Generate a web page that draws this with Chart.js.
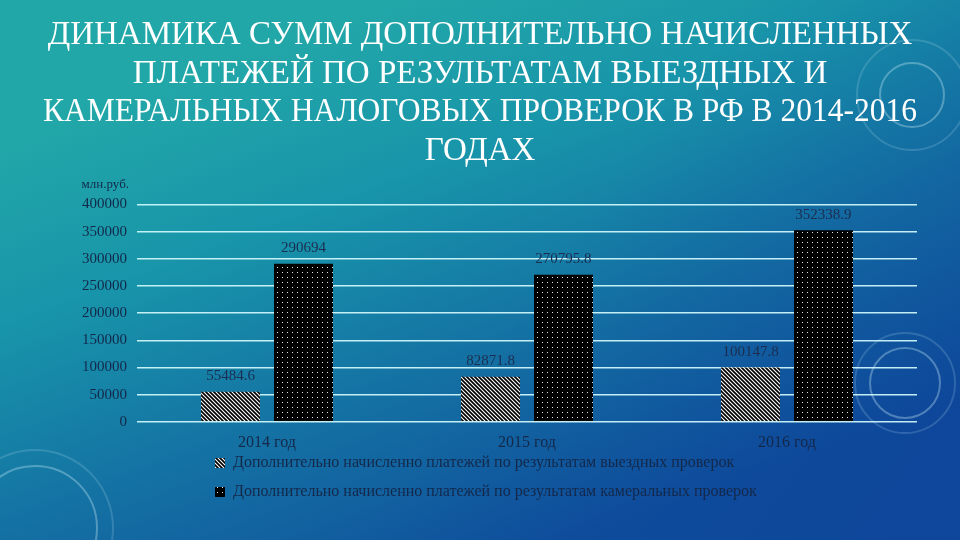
<!DOCTYPE html>
<html><head><meta charset="utf-8">
<script src="https://cdn.jsdelivr.net/npm/chart.js@4/dist/chart.umd.min.js"></script>
<style>html,body{margin:0;padding:0;width:960px;height:540px;overflow:hidden;background:#1177a5}
#c{display:block}</style></head>
<body><canvas id="c" width="960" height="540"></canvas>
<script>
const titleLines = ['ДИНАМИКА СУММ ДОПОЛНИТЕЛЬНО НАЧИСЛЕННЫХ', 'ПЛАТЕЖЕЙ ПО РЕЗУЛЬТАТАМ ВЫЕЗДНЫХ И', 'КАМЕРАЛЬНЫХ НАЛОГОВЫХ ПРОВЕРОК В РФ В 2014-2016', 'ГОДАХ'];
const categories = ['2014 год', '2015 год', '2016 год'];
const fieldAudits = [55484.6, 82871.8, 100147.8];
const deskAudits = [290694, 270795.8, 352338.9];
const seriesNames = ['Дополнительно начисленно платежей по результатам выездных проверок', 'Дополнительно начисленно платежей по результатам камеральных проверок'];
const unitLabel = 'млн.руб.';
const yMax = 400000;
const yStep = 50000;

const canvas = document.getElementById('c');
const mainCtx = canvas.getContext('2d');
const SERIF = '"Liberation Serif", "DejaVu Serif", serif';
const TEXT_DARK = '#14284a';

function stripePattern() {
  const c = document.createElement('canvas'); c.width = 4; c.height = 4;
  const x = c.getContext('2d');
  x.fillStyle = '#000'; x.fillRect(0, 0, 4, 4);
  x.strokeStyle = '#fff'; x.lineWidth = 1.1;
  x.beginPath();
  x.moveTo(0, 0); x.lineTo(4, 4);
  x.moveTo(-2, 2); x.lineTo(2, 6);
  x.moveTo(2, -2); x.lineTo(6, 2);
  x.stroke();
  return mainCtx.createPattern(c, 'repeat');
}
function dotPattern() {
  const c = document.createElement('canvas'); c.width = 5; c.height = 5;
  const x = c.getContext('2d');
  x.fillStyle = '#000'; x.fillRect(0, 0, 5, 5);
  x.fillStyle = '#e8e8e8'; x.fillRect(2, 2, 1, 1);
  return mainCtx.createPattern(c, 'repeat');
}

const bgPlugin = {
  id: 'bg',
  beforeDraw(chart) {
    const ctx = chart.ctx, w = chart.width, h = chart.height;
    ctx.save();
    const g = ctx.createLinearGradient(380, 0, 580, h);
    g.addColorStop(0, '#22a7a8');
    g.addColorStop(0.3, '#1895aa');
    g.addColorStop(0.65, '#1470a3');
    g.addColorStop(1, '#0f4f9c');
    ctx.fillStyle = g;
    ctx.fillRect(0, 0, w, h);
    const g2 = ctx.createLinearGradient(250, 60, 900, 540);
    g2.addColorStop(0, 'rgba(10,50,150,0)');
    g2.addColorStop(0.45, 'rgba(10,50,150,0)');
    g2.addColorStop(1, 'rgba(10,50,150,0.3)');
    ctx.fillStyle = g2;
    ctx.fillRect(0, 0, w, h);
    ctx.lineWidth = 2;
    ctx.strokeStyle = 'rgba(200,235,245,0.35)';
    ctx.beginPath(); ctx.arc(905, 383, 35, 0, Math.PI * 2); ctx.stroke();
    ctx.beginPath(); ctx.arc(912, 95, 32, 0, Math.PI * 2); ctx.stroke();
    ctx.beginPath(); ctx.arc(35, 528, 62, 0, Math.PI * 2); ctx.stroke();
    ctx.strokeStyle = 'rgba(200,235,245,0.18)';
    ctx.beginPath(); ctx.arc(905, 383, 50, 0, Math.PI * 2); ctx.stroke();
    ctx.beginPath(); ctx.arc(912, 95, 55, 0, Math.PI * 2); ctx.stroke();
    ctx.beginPath(); ctx.arc(35, 528, 78, 0, Math.PI * 2); ctx.stroke();
    ctx.restore();
  }
};

// keep x labels unclipped and place legend rows left-aligned like the original
const layoutTweak = {
  id: 'layoutTweak',
  afterLayout(chart) {
    chart.scales.x.bottom += 26;
    const lg = chart.legend;
    lg.left = 215 - lg.options.labels.padding;
  }
};

const valuePlugin = {
  id: 'vals',
  afterDatasetsDraw(chart) {
    const ctx = chart.ctx;
    ctx.save();
    ctx.font = '15px ' + SERIF;
    ctx.fillStyle = '#1b2d50';
    ctx.textAlign = 'center';
    ctx.textBaseline = 'bottom';
    chart.data.datasets.forEach((ds, i) => {
      chart.getDatasetMeta(i).data.forEach((bar, j) => {
        ctx.fillText(String(ds.data[j]), bar.x, bar.y - 8);
      });
    });
    const ys = chart.scales.y;
    ctx.font = '13px ' + SERIF;
    ctx.fillStyle = TEXT_DARK;
    ctx.textAlign = 'right';
    ctx.textBaseline = 'middle';
    ctx.fillText(unitLabel, ys.right - 8, chart.chartArea.top - 20);
    ctx.restore();
  }
};

new Chart(canvas, {
  type: 'bar',
  data: {
    labels: categories,
    datasets: [
      { label: seriesNames[0], data: fieldAudits, backgroundColor: stripePattern(), categoryPercentage: 0.5615, barPercentage: 0.808 },
      { label: seriesNames[1], data: deskAudits, backgroundColor: dotPattern(), categoryPercentage: 0.5615, barPercentage: 0.808 }
    ]
  },
  options: {
    responsive: false,
    animation: false,
    layout: { padding: { left: 43, right: 43, top: 0, bottom: 30 } },
    plugins: {
      title: {
        display: true, text: titleLines, color: '#ffffff',
        font: { family: SERIF, size: 33, weight: 'normal', lineHeight: 1.17 },
        padding: { top: 16, bottom: 34 }
      },
      legend: {
        position: 'bottom', align: 'start',
        labels: { color: TEXT_DARK, font: { family: SERIF, size: 16 }, boxWidth: 10, boxHeight: 10, padding: 13 }
      },
      tooltip: { enabled: false }
    },
    scales: {
      x: {
        grid: { display: false }, border: { display: false },
        ticks: { color: TEXT_DARK, font: { family: SERIF, size: 16 }, padding: 3 },
        afterFit(scale) { scale.height -= 13; }
      },
      y: {
        min: 0, max: yMax,
        ticks: { stepSize: yStep, color: TEXT_DARK, font: { family: SERIF, size: 15 }, padding: 10, callback: (v) => String(v) },
        grid: { color: 'rgba(205,245,250,0.95)', lineWidth: 1.5, drawTicks: false },
        border: { display: false },
        afterFit(scale) { scale.width = 94; }
      }
    }
  },
  plugins: [bgPlugin, layoutTweak, valuePlugin]
});
</script>
</body></html>
